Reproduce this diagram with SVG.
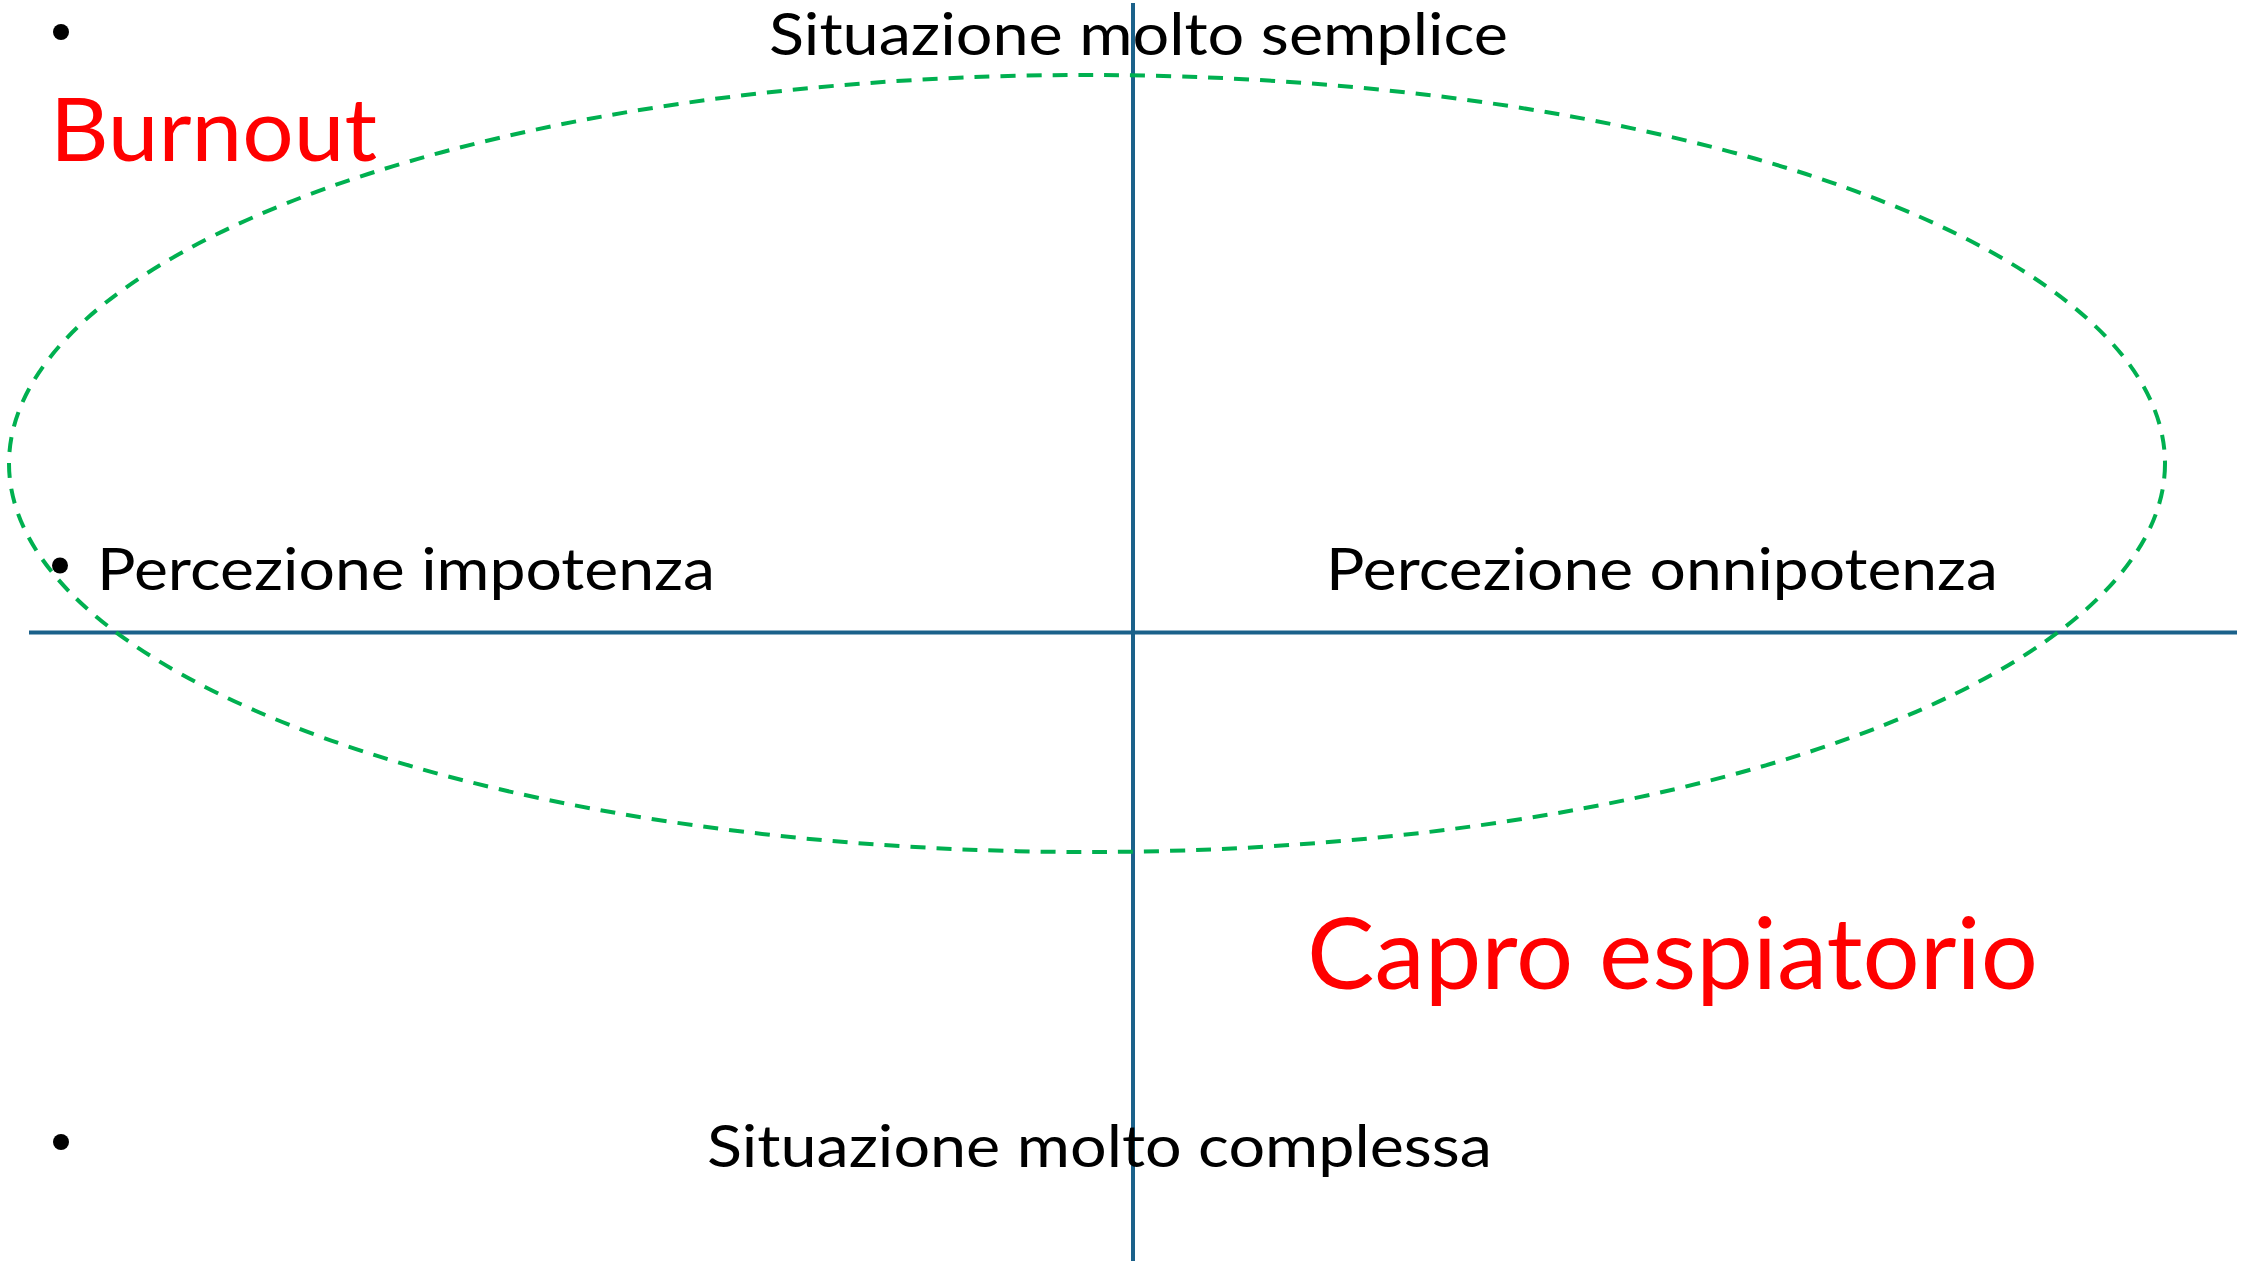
<svg xmlns="http://www.w3.org/2000/svg" width="2255" height="1261" viewBox="0 0 2255 1261">
  <style>
    .txt { font-family: Lato, "Open Sans", "Liberation Sans", sans-serif; fill: #000000; }
    .red { fill: #FF0000; }
    .axis { stroke: #1B618A; stroke-width: 4; fill: none; }
    .zone { stroke: #00B050; stroke-width: 4; stroke-dasharray: 15 11; fill: none; }
    .bullet { fill: #000000; }
  </style>
  <rect x="0" y="0" width="2255" height="1261" fill="#FFFFFF"/>

  <g id="connectors">
    <line class="axis" x1="1133" y1="3" x2="1133" y2="1261"/>
    <line class="axis" x1="29" y1="632.5" x2="2237" y2="632.5"/>
  </g>

  <g id="ellipse-zone">
    <ellipse class="zone" cx="1087" cy="463.5" rx="1078" ry="388.5"/>
  </g>

  <g id="node-semplice">
    <circle class="bullet" cx="61" cy="32" r="8"/>
    <text class="txt" x="769" y="55" font-size="59" textLength="739" lengthAdjust="spacingAndGlyphs">Situazione molto semplice</text>
  </g>

  <g id="node-burnout">
    <text class="txt red" x="50" y="161" font-size="88" textLength="327" lengthAdjust="spacingAndGlyphs">Burnout</text>
  </g>

  <g id="node-impotenza">
    <circle class="bullet" cx="60" cy="565.5" r="8"/>
    <text class="txt" x="97" y="590" font-size="59" textLength="618" lengthAdjust="spacingAndGlyphs">Percezione impotenza</text>
  </g>

  <g id="node-onnipotenza">
    <text class="txt" x="1326" y="590" font-size="59" textLength="672" lengthAdjust="spacingAndGlyphs">Percezione onnipotenza</text>
  </g>

  <g id="node-capro">
    <text class="txt red" x="1307" y="989" font-size="98" textLength="731" lengthAdjust="spacingAndGlyphs">Capro espiatorio</text>
  </g>

  <g id="node-complessa">
    <circle class="bullet" cx="61" cy="1142" r="8"/>
    <text class="txt" x="707" y="1167" font-size="59" textLength="785" lengthAdjust="spacingAndGlyphs">Situazione molto complessa</text>
  </g>
</svg>
